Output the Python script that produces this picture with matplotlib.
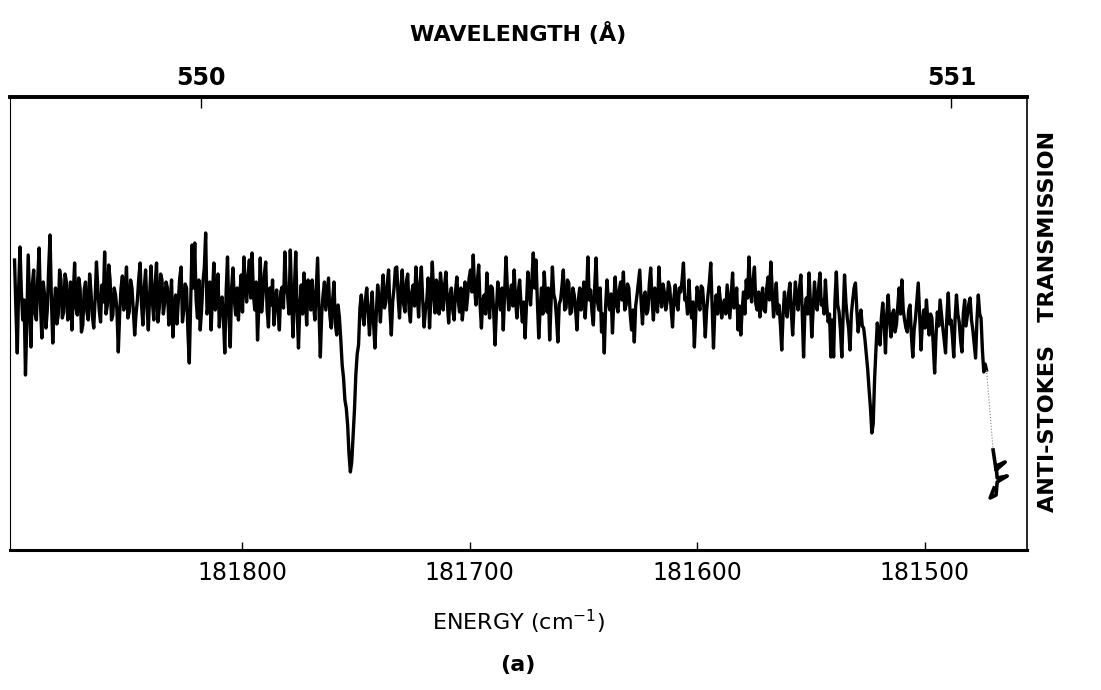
import numpy as np
import matplotlib
matplotlib.use('Agg')
import matplotlib.pyplot as plt

plt.rcParams['font.family'] = ['DejaVu Sans']

# scan grid (cm^-1), signal (arbitrary units)
E_START = 181900.0
E_STEP = 0.6

signal = [
    290, 240, 197, 262, 303, 258, 230, 250, 175, 228, 295, 248, 203, 265, 280, 236, 230, 272, 302, 245,
    212, 268, 255, 222, 240, 282, 315, 250, 207, 244, 262, 226, 235, 280, 270, 232, 238, 276, 268, 230,
    245, 268, 220, 255, 287, 242, 235, 272, 262, 218, 225, 260, 268, 238, 230, 276, 258, 234, 222, 250,
    288, 262, 240, 228, 265, 248, 298, 236, 245, 285, 270, 230, 235, 262, 255, 240, 198, 236, 262, 274,
    240, 258, 283, 232, 238, 270, 262, 240, 215, 236, 250, 272, 287, 246, 225, 262, 280, 242, 220, 256,
    284, 248, 230, 266, 287, 228, 242, 276, 270, 236, 248, 268, 262, 225, 245, 270, 213, 240, 255, 226,
    250, 272, 283, 228, 240, 266, 262, 218, 187, 245, 305, 262, 307, 250, 232, 270, 220, 240, 268, 282,
    317, 236, 245, 268, 220, 256, 287, 240, 250, 276, 223, 248, 253, 232, 197, 258, 293, 236, 203, 262,
    282, 250, 235, 262, 230, 256, 275, 238, 293, 266, 248, 272, 290, 252, 297, 255, 240, 268, 210, 246,
    292, 238, 255, 276, 288, 240, 223, 262, 245, 270, 225, 250, 260, 238, 220, 258, 263, 242, 298, 262,
    255, 236, 300, 250, 213, 262, 298, 238, 202, 244, 265, 236, 277, 255, 225, 270, 262, 240, 270, 246,
    230, 262, 292, 240, 193, 236, 255, 268, 240, 256, 272, 234, 222, 250, 268, 226, 215, 245, 232, 210,
    185, 172, 150, 142, 125, 96, 78, 88, 115, 140, 175, 196, 205, 242, 255, 236, 225, 250, 262, 238,
    215, 240, 258, 226, 202, 236, 265, 250, 228, 256, 275, 242, 248, 266, 280, 240, 215, 248, 262, 282,
    283, 252, 232, 262, 280, 246, 238, 268, 276, 240, 228, 258, 265, 244, 283, 256, 233, 266, 283, 250,
    223, 240, 250, 272, 222, 252, 288, 258, 237, 270, 265, 236, 277, 262, 240, 264, 278, 248, 227, 255,
    262, 240, 230, 258, 273, 250, 238, 262, 230, 246, 268, 240, 255, 272, 280, 258, 295, 262, 245, 268,
    285, 246, 222, 250, 255, 236, 277, 250, 232, 264, 262, 238, 205, 240, 268, 250, 240, 262, 220, 258,
    293, 262, 240, 256, 265, 244, 280, 250, 232, 258, 270, 246, 228, 248, 212, 244, 278, 260, 245, 272,
    297, 262, 290, 248, 212, 240, 262, 236, 278, 255, 238, 262, 210, 248, 283, 256, 250, 232, 208, 246,
    250, 264, 280, 240, 242, 270, 267, 236, 238, 262, 255, 240, 220, 250, 262, 240, 248, 268, 232, 256,
    293, 250, 260, 238, 225, 264, 292, 248, 240, 262, 218, 236, 197, 244, 270, 248, 240, 256, 217, 250,
    273, 245, 238, 260, 268, 250, 278, 240, 245, 266, 262, 236, 220, 240, 208, 244, 255, 268, 280, 248,
    226, 254, 258, 236, 240, 266, 282, 250, 230, 262, 252, 238, 283, 256, 243, 266, 258, 240, 248, 268,
    262, 240, 223, 252, 265, 246, 240, 262, 258, 270, 287, 250, 252, 236, 270, 244, 232, 248, 203, 236,
    263, 252, 240, 264, 262, 242, 213, 240, 255, 268, 287, 244, 202, 240, 255, 236, 263, 250, 232, 244,
    250, 236, 265, 248, 232, 256, 277, 242, 245, 262, 220, 244, 215, 240, 258, 236, 270, 252, 293, 258,
    248, 270, 283, 246, 240, 258, 233, 250, 262, 240, 238, 262, 273, 250, 288, 260, 233, 248, 267, 236,
    245, 226, 200, 236, 258, 240, 233, 256, 267, 238, 215, 244, 268, 250, 240, 262, 275, 238, 193, 240,
    252, 236, 277, 248, 213, 240, 268, 246, 240, 262, 277, 245, 250, 236, 270, 244, 228, 236, 193, 230,
    193, 250, 278, 245, 238, 220, 193, 236, 275, 248, 232, 222, 200, 236, 250, 262, 267, 240, 218, 232,
    240, 224, 222, 210, 195, 180, 160, 142, 117, 126, 170, 200, 227, 214, 205, 232, 247, 226, 197, 236,
    255, 230, 213, 236, 240, 218, 225, 244, 262, 236, 270, 240, 230, 222, 218, 240, 245, 214, 193, 220,
    232, 250, 267, 236, 200, 226, 240, 222, 250, 230, 215, 236, 232, 205, 177, 214, 238, 224, 250, 236,
    222, 210, 197, 234, 257, 226, 230, 214, 193, 232, 255, 236, 228, 210, 198, 236, 250, 224, 235, 246,
    252, 230, 220, 206, 192, 230, 255, 236, 232, 200, 178, 186, 180,
]
energy = E_START - E_STEP * np.arange(len(signal))

# little scribble past the end of the scan
tail_energy = [181469.9, 181468.6, 181464.6, 181468.6, 181468.1, 181463.7, 181468.1, 181468.6, 181471.2, 181469.5]
tail_signal = [100, 80, 88, 84, 72, 74, 68, 55, 52, 62]

energy_ticks = [181800, 181700, 181600, 181500]
wavelength_ticks = [550, 551]


def to_wavelength(e):
    return 1e8 / np.asarray(e, dtype=float)


fig = plt.figure(figsize=(11.01, 6.9), dpi=100)
ax = fig.add_axes([10 / 1101, 140 / 690, 1017 / 1101, 453 / 690])

ax.plot(energy, signal, color='black', lw=2.4, solid_joinstyle='round')
ax.plot([energy[-1], tail_energy[0]], [signal[-1], tail_signal[0]], color='0.5', lw=0.8, ls=':')
ax.plot(tail_energy, tail_signal, color='black', lw=2.6)

ax.set_xlim(181902, 181455)
ax.set_ylim(0, 453)
ax.set_yticks([])

ax.spines['top'].set_linewidth(2.6)
ax.spines['bottom'].set_linewidth(2.2)
ax.spines['left'].set_linewidth(0.8)
ax.spines['right'].set_linewidth(1.2)

ax.set_xticks(energy_ticks)
ax.set_xticklabels([str(t) for t in energy_ticks])
ax.tick_params(axis='x', direction='in', length=6, width=1, pad=8, labelsize=17)
ax.set_xlabel('ENERGY (cm$^{-1}$)', fontsize=16, labelpad=16)

top = ax.secondary_xaxis('top', functions=(to_wavelength, to_wavelength))
top.set_xticks(wavelength_ticks)
top.set_xticklabels([str(t) for t in wavelength_ticks], fontweight='bold')
top.tick_params(direction='in', length=8, width=1, pad=5, labelsize=17)
top.spines['top'].set_linewidth(2.6)
top.set_xlabel('WAVELENGTH (Å)', fontsize=16, fontweight='bold', labelpad=18)

fig.text(1048 / 1101, 369 / 690, 'ANTI-STOKES   TRANSMISSION', rotation=90,
         ha='center', va='center', fontsize=16, fontweight='bold')
fig.text(518 / 1101, 25 / 690, '(a)', ha='center', va='center', fontsize=16, fontweight='bold')

fig.savefig('out.png', dpi=100)
